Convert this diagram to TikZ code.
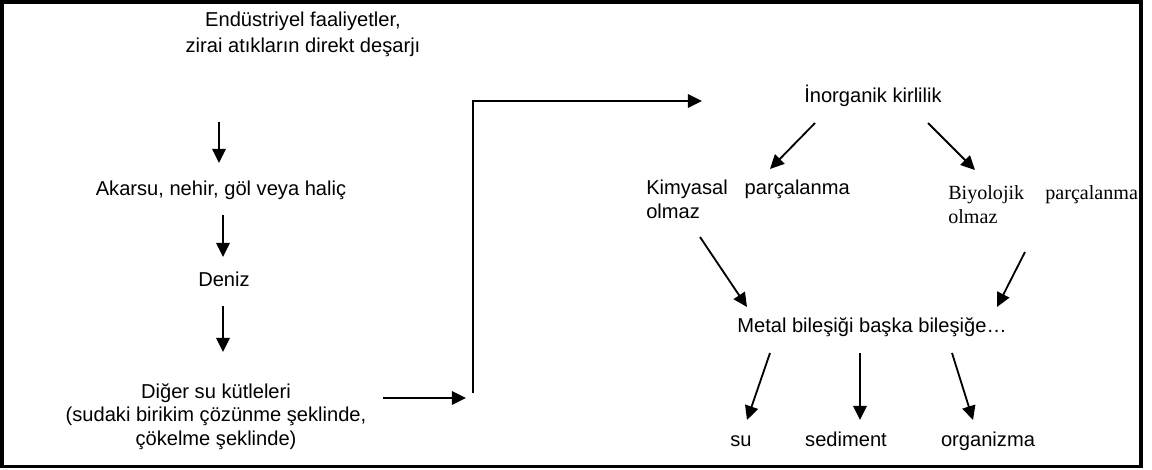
\documentclass[tikz,border=0pt]{standalone}
\usepackage{fontspec}
\setmainfont{Liberation Sans}
\newfontfamily\timesfont{Liberation Serif}
\usetikzlibrary{arrows.meta}
\lineskiplimit=-20pt
\begin{document}
\begin{tikzpicture}[x=0.025cm, y=-0.025cm,
    every node/.style={inner sep=0pt, anchor=base, font=\fontsize{14.3}{16}\selectfont},
    arr/.style={line width=1.3pt, -{Triangle[length=10pt,width=9.5pt]}}]
            \useasboundingbox (0,0) rectangle (1152,469);
            \draw[line width=2.3pt] (2,2) rectangle (1141,466.5);
            \node[align=center, font=\fontsize{14.3}{18}\selectfont] (endus) at (303,52) {Endüstriyel faaliyetler,\\zirai atıkların direkt deşarjı};
            \node (akarsu) at (221,195) {Akarsu, nehir, göl veya haliç};
            \node (deniz) at (224,286) {Deniz};
            \node[align=center, font=\fontsize{14.3}{16.6}\selectfont] (diger) at (216,445) {Diğer su kütleleri\\(sudaki birikim çözünme şeklinde,\\çökelme şeklinde)};
            \node (inorg) at (873,102) {İnorganik kirlilik};
            \node[anchor=base west, align=left, font=\fontsize{14.3}{16.4}\selectfont] (kimya) at (646,218) {Kimyasal\hspace{12pt}parçalanma\\olmaz};
            \node[anchor=base west, align=left, font=\timesfont\fontsize{14.3}{17}\selectfont] (biyo) at (948,223) {Biyolojik\hspace{15pt}parçalanma\\olmaz};
            \node (metal) at (872,332) {Metal bileşiği başka bileşiğe…};
            \node (su) at (741,446) {su};
            \node (sediment) at (846,446) {sediment};
            \node (organizma) at (988,446) {organizma};
            \coordinate (endus-s) at (219,122); \coordinate (akarsu-n) at (219,163);
            \coordinate (akarsu-s) at (223,215); \coordinate (deniz-n) at (223,257);
            \coordinate (deniz-s) at (223,306); \coordinate (diger-n) at (223,352);
            \coordinate (diger-e) at (383,398); \coordinate (turn-s) at (466,398);
            \coordinate (turn-a) at (473,393); \coordinate (turn-b) at (473,101); \coordinate (inorg-w) at (702,101);
            \coordinate (inorg-sw) at (815,123); \coordinate (kimya-n) at (770,169);
            \coordinate (inorg-se) at (928,123); \coordinate (biyo-n) at (975,170);
            \coordinate (kimya-s) at (700,237); \coordinate (metal-nw) at (747,307);
            \coordinate (biyo-s) at (1025,252); \coordinate (metal-ne) at (997,307);
            \coordinate (metal-s1) at (770,353); \coordinate (su-n) at (747,420);
            \coordinate (metal-s2) at (860,353); \coordinate (sediment-n) at (860,420);
            \coordinate (metal-s3) at (952,353); \coordinate (organizma-n) at (973,420);
            \draw[arr] (endus-s) -- (akarsu-n);
            \draw[arr] (akarsu-s) -- (deniz-n);
            \draw[arr] (deniz-s) -- (diger-n);
            \draw[arr] (diger-e) -- (turn-s);
            \draw[arr] (turn-a) -- (turn-b) -- (inorg-w);
            \draw[arr] (inorg-sw) -- (kimya-n);
            \draw[arr] (inorg-se) -- (biyo-n);
            \draw[arr] (kimya-s) -- (metal-nw);
            \draw[arr] (biyo-s) -- (metal-ne);
            \draw[arr] (metal-s1) -- (su-n);
            \draw[arr] (metal-s2) -- (sediment-n);
            \draw[arr] (metal-s3) -- (organizma-n);
        \end{tikzpicture}
\end{document}
